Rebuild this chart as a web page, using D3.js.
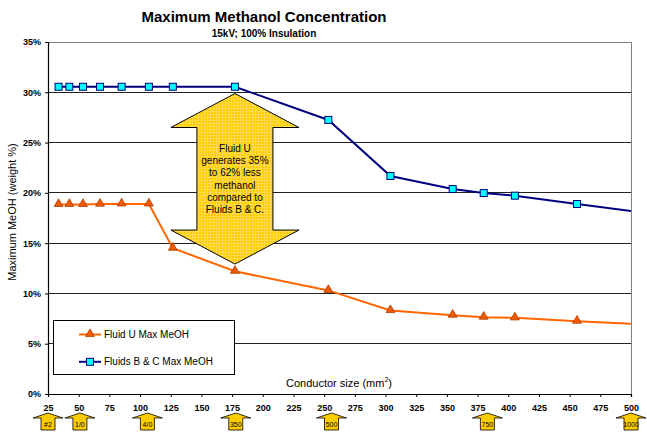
<!DOCTYPE html>
<html>
<head>
<meta charset="utf-8">
<script src="https://cdn.jsdelivr.net/npm/d3@7/dist/d3.min.js"></script>
<style>
  html, body { margin: 0; padding: 0; background: #fff; }
  svg { display: block; font-family: Arial, "Liberation Sans", sans-serif; }
</style>
</head>
<body>
<svg id="chart" width="647" height="432"></svg>
<script>
// Conductor cross-sections (mm²): #2, #1, 1/0, 2/0, 3/0, 4/0, 250, 350, 500, 600, 700, 750, 800, 900, 1000 kcmil
const conductorSizes = [33.6, 42.4, 53.5, 67.4, 85.0, 107.2, 126.7, 177.3, 253.4, 304.0, 354.7, 380.0, 405.4, 456.0, 506.7];
// Maximum MeOH (weight %) for each conductor size
const fluidUMax  = [18.85, 18.85, 18.85, 18.88, 18.9, 18.9, 14.5, 12.2, 10.3, 8.3, 7.84, 7.64, 7.57, 7.24, 6.95];
const fluidsBCMax = [30.55, 30.55, 30.55, 30.55, 30.55, 30.55, 30.55, 30.55, 27.25, 21.68, 20.38, 19.98, 19.72, 18.89, 18.08];

const yTicks = [0, 5, 10, 15, 20, 25, 30, 35];
const xTicks = d3.range(25, 501, 25);

// AWG / kcmil markers shown under the x axis (position in mm² on the axis)
const sizeTagLabels = ["#2", "1/0", "4/0", "350", "500", "750", "1000"];
const sizeTagPos    = [25, 51, 106, 178, 256, 383, 500];

const calloutLines = ["Fluid U", "generates 35%", "to 62% less", "methanol", "compared to", "Fluids B & C."];

const svg = d3.select("#chart");
const L = 48, R = 631, T = 42, B = 394;
const x = d3.scaleLinear().domain([25, 500]).range([L, R]);
const y = d3.scaleLinear().domain([0, 35]).range([B, T]);

// Titles
svg.append("text").attr("x", 264).attr("y", 22).attr("text-anchor", "middle")
  .attr("font-size", 15).attr("font-weight", "bold").attr("fill", "#000")
  .text("Maximum Methanol Concentration");
svg.append("text").attr("x", 264).attr("y", 37).attr("text-anchor", "middle")
  .attr("font-size", 10).attr("font-weight", "bold").attr("fill", "#000")
  .text("15kV; 100% Insulation");

// Pattern for the yellow callout shapes
const defs = svg.append("defs");
const pat = defs.append("pattern").attr("id", "yel").attr("width", 3).attr("height", 3)
  .attr("patternUnits", "userSpaceOnUse");
pat.append("rect").attr("width", 3).attr("height", 3).attr("fill", "#FFCC00");
pat.append("path").attr("d", "M0,0.5H3M0.5,0V3").attr("stroke", "#FFDB4D").attr("stroke-width", 1);

defs.append("clipPath").attr("id", "plotClip").append("rect")
  .attr("x", L).attr("y", T - 6).attr("width", R - L).attr("height", B - T + 12);

// Gridlines
svg.append("g").selectAll("line").data(yTicks.filter(d => d > 0 && d < 35)).join("line")
  .attr("x1", L).attr("x2", R).attr("y1", d => y(d)).attr("y2", d => y(d))
  .attr("stroke", "#222").attr("stroke-width", 1).attr("shape-rendering", "crispEdges");

// Plot frame (top and right edges)
svg.append("path").attr("d", `M${L},${T}H${R}V${B}`).attr("fill", "none")
  .attr("stroke", "#808080").attr("stroke-width", 1).attr("shape-rendering", "crispEdges");

// Axes
const yAxis = d3.axisLeft(y).tickValues(yTicks).tickFormat(d => d + "%").tickSize(3).tickPadding(4);
const gy = svg.append("g").attr("transform", `translate(${L},0)`).call(yAxis);
const xAxis = d3.axisBottom(x).tickValues(xTicks).tickSize(3).tickPadding(8);
const gx = svg.append("g").attr("transform", `translate(0,${B})`).call(xAxis);
[gx, gy].forEach(g => {
  g.select(".domain").attr("stroke", "#000").attr("stroke-width", 1.2);
  g.selectAll(".tick line").attr("stroke", "#000");
  g.selectAll("text").attr("font-size", 9).attr("font-weight", "bold").attr("fill", "#000")
    .attr("font-family", "Arial, 'Liberation Sans', sans-serif");
});

// Axis titles
svg.append("text").attr("transform", `translate(16,${(T + B) / 2 - 6}) rotate(-90)`)
  .attr("text-anchor", "middle").attr("font-size", 11).attr("fill", "#000")
  .text("Maximum MeOH (weight %)");
const xt = svg.append("text").attr("x", 339).attr("y", 387).attr("text-anchor", "middle")
  .attr("font-size", 11).attr("fill", "#000");
xt.append("tspan").text("Conductor size (mm");
xt.append("tspan").attr("font-size", 7).attr("dy", -5).text("2");
xt.append("tspan").attr("dy", 5).text(")");

// Series
const rows = conductorSizes.map((s, i) => ({ s, u: fluidUMax[i], bc: fluidsBCMax[i] }));
const plot = svg.append("g").attr("clip-path", "url(#plotClip)");
const lineU = d3.line().x(d => x(d.s)).y(d => y(d.u));
const lineBC = d3.line().x(d => x(d.s)).y(d => y(d.bc));
plot.append("path").datum(rows).attr("d", lineBC).attr("fill", "none")
  .attr("stroke", "#000080").attr("stroke-width", 2);
plot.append("path").datum(rows).attr("d", lineU).attr("fill", "none")
  .attr("stroke", "#FF6600").attr("stroke-width", 2);

const tri = d3.symbol().type(d3.symbolTriangle).size(34);
const inRange = rows.filter(d => d.s <= 500);
plot.append("g").selectAll("rect").data(inRange).join("rect")
  .attr("x", d => x(d.s) - 3.5).attr("y", d => y(d.bc) - 3.5).attr("width", 7).attr("height", 7)
  .attr("fill", "#00FFFF").attr("stroke", "#000080").attr("stroke-width", 1);
plot.append("g").selectAll("path").data(inRange).join("path")
  .attr("d", tri).attr("transform", d => `translate(${x(d.s)},${y(d.u) - 0.5})`)
  .attr("fill", "#F05A00").attr("stroke", "#B03C00").attr("stroke-width", 0.8);

// Double-headed callout arrow between the two series at 350 kcmil
const cx = x(177.3), topY = y(29.88), botY = y(12.92);
const headW = 64, shaftW = 38, headH = 34;
const arrowPts = [
  [cx, topY], [cx + headW, topY + headH], [cx + shaftW, topY + headH],
  [cx + shaftW, botY - headH], [cx + headW, botY - headH], [cx, botY],
  [cx - headW, botY - headH], [cx - shaftW, botY - headH], [cx - shaftW, topY + headH],
  [cx - headW, topY + headH]
];
svg.append("path").attr("d", d3.line()(arrowPts) + "Z")
  .attr("fill", "url(#yel)").attr("stroke", "#000").attr("stroke-width", 1);
svg.append("g").selectAll("text").data(calloutLines).join("text")
  .attr("x", cx).attr("y", (d, i) => 152 + i * 12.2).attr("text-anchor", "middle")
  .attr("font-size", 10).attr("fill", "#000").text(d => d);

// Legend
const lg = svg.append("g");
lg.append("rect").attr("x", 53.5).attr("y", 320.5).attr("width", 181).attr("height", 54)
  .attr("fill", "#fff").attr("stroke", "#000").attr("stroke-width", 1);
const legendItems = [
  { label: "Fluid U Max MeOH", color: "#FF6600", kind: "tri" },
  { label: "Fluids B & C Max MeOH", color: "#000080", kind: "sq" }
];
legendItems.forEach((it, i) => {
  const ly = 334.5 + i * 27.3;
  lg.append("line").attr("x1", 79).attr("x2", 101).attr("y1", ly).attr("y2", ly)
    .attr("stroke", it.color).attr("stroke-width", 2);
  if (it.kind === "tri") {
    lg.append("path").attr("d", tri).attr("transform", `translate(90,${ly - 0.5})`)
      .attr("fill", "#F05A00").attr("stroke", "#B03C00").attr("stroke-width", 0.8);
  } else {
    lg.append("rect").attr("x", 86.5).attr("y", ly - 3.5).attr("width", 7).attr("height", 7)
      .attr("fill", "#00FFFF").attr("stroke", "#000080");
  }
  lg.append("text").attr("x", 104).attr("y", ly + 3.5).attr("font-size", 10).attr("fill", "#000")
    .text(it.label);
});

// Conductor-size tags under the axis
const tags = svg.append("g");
sizeTagLabels.forEach((lab, i) => {
  const tx = x(sizeTagPos[i]);
  const pts = [[tx, 413], [tx + 15, 418], [tx + 7, 418], [tx + 7, 430], [tx - 7, 430], [tx - 7, 418], [tx - 15, 418]];
  tags.append("path").attr("d", d3.line()(pts) + "Z")
    .attr("fill", "#FFCC00").attr("stroke", "#000").attr("stroke-width", 0.8);
  tags.append("text").attr("x", tx).attr("y", 427).attr("text-anchor", "middle")
    .attr("font-size", 7).attr("fill", "#000").text(lab);
});
</script>
</body>
</html>
